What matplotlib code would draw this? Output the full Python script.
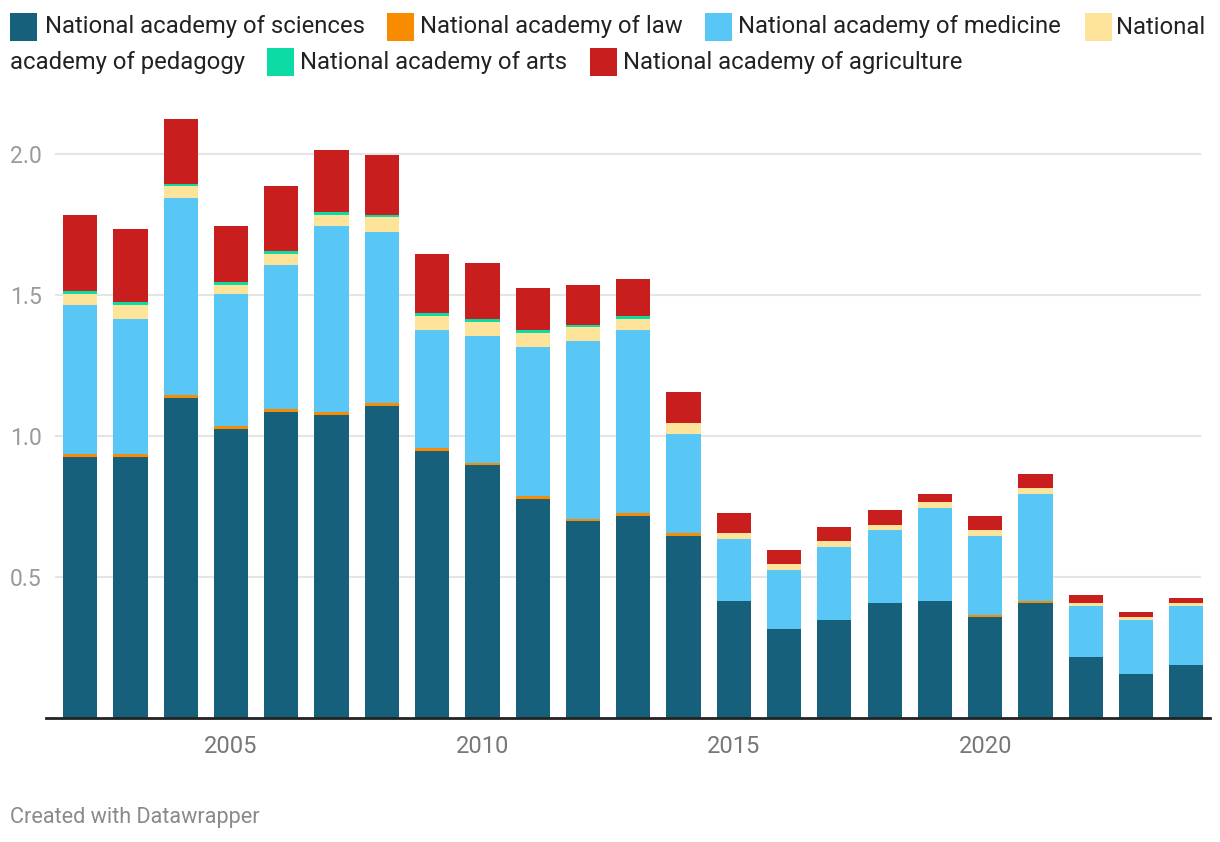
import matplotlib
matplotlib.use("Agg")
import matplotlib.pyplot as plt
from matplotlib.patches import Rectangle
import numpy as np

plt.rcParams['font.family'] = ['Roboto', 'DejaVu Sans']

years = list(range(2002, 2025))

sciences = [0.927, 0.927, 1.136, 1.026, 1.086, 1.076, 1.107, 0.948, 0.897, 0.778, 0.699, 0.716,
            0.645, 0.416, 0.316, 0.348, 0.408, 0.415, 0.358, 0.408, 0.216, 0.156, 0.188]
law = [0.011, 0.011, 0.009, 0.011, 0.011, 0.010, 0.011, 0.010, 0.008, 0.010, 0.007, 0.011,
       0.010, 0, 0, 0, 0, 0, 0.007, 0.007, 0, 0, 0]
medicine = [0.528, 0.478, 0.700, 0.468, 0.510, 0.660, 0.606, 0.419, 0.451, 0.529, 0.632, 0.650,
            0.352, 0.219, 0.209, 0.258, 0.259, 0.330, 0.280, 0.379, 0.181, 0.192, 0.209]
pedagogy = [0.039, 0.050, 0.043, 0.032, 0.039, 0.039, 0.054, 0.050, 0.049, 0.048, 0.049, 0.038,
            0.039, 0.021, 0.021, 0.022, 0.017, 0.021, 0.022, 0.022, 0.011, 0.010, 0.011]
arts = [0.009, 0.010, 0.007, 0.010, 0.011, 0.010, 0.007, 0.010, 0.011, 0.011, 0.007, 0.011,
        0, 0, 0, 0, 0, 0, 0, 0, 0, 0, 0]
agriculture = [0.270, 0.258, 0.229, 0.198, 0.230, 0.219, 0.211, 0.208, 0.197, 0.149, 0.141, 0.131,
               0.110, 0.071, 0.050, 0.049, 0.054, 0.028, 0.049, 0.049, 0.028, 0.018, 0.018]

series = [
    ("National academy of sciences", sciences, "#17607b"),
    ("National academy of law", law, "#f98b00"),
    ("National academy of medicine", medicine, "#58c7f5"),
    ("National academy of pedagogy", pedagogy, "#fee49b"),
    ("National academy of arts", arts, "#0cdca4"),
    ("National academy of agriculture", agriculture, "#c81e1e"),
]

W, H = 1220, 842
fig = plt.figure(figsize=(W / 100, H / 100), dpi=100)
ax = fig.add_axes([46 / W, 1 - 718 / H, (1210 - 46) / W, (718 - 98) / H])

bottom = np.zeros(len(years))
for name, vals, color in series:
    vals = np.array(vals)
    ax.bar(years, vals, bottom=bottom, width=0.68, color=color, linewidth=0, zorder=3)
    bottom += vals

ax.set_xlim(2002 - 0.68, 2024 + 0.47)
ax.set_ylim(0, 2.2)
yticks = [0.5, 1.0, 1.5, 2.0]
ax.set_yticks(yticks)
ax.set_yticklabels(["0.5", "1.0", "1.5", "2.0"])
ax.set_xticks([2005, 2010, 2015, 2020])
ax.tick_params(axis='y', length=0, labelsize=16.5, labelcolor="#9a9a9a", pad=3)
ax.tick_params(axis='x', length=0, labelsize=17, labelcolor="#777777", pad=12)
for yv in yticks:
    ax.axhline(yv, xmin=10 / 1164, xmax=1154 / 1164, color="#e5e5e5", linewidth=1.5, zorder=0)
for s in ["top", "right", "left"]:
    ax.spines[s].set_visible(False)
ax.spines["bottom"].set_color("#222222")
ax.spines["bottom"].set_linewidth(2)
ax.spines["bottom"].set_zorder(4)

# legend, laid out like the wrapped Datawrapper legend
legend_items = [
    (10, 27, 45, "National academy of sciences", "#17607b"),
    (387, 27, 420, "National academy of law", "#f98b00"),
    (705, 27, 738, "National academy of medicine", "#58c7f5"),
    (1085, 27, 1116, "National", "#fee49b"),
    (267, 62, 300, "National academy of arts", "#0cdca4"),
    (590, 62, 623, "National academy of agriculture", "#c81e1e"),
]
for sx, cy, tx, label, color in legend_items:
    fig.patches.append(Rectangle((sx / W, 1 - (cy + 14) / H), 27 / W, 28 / H,
                                 transform=fig.transFigure, color=color, linewidth=0))
    fig.text(tx / W, 1 - cy / H, label, fontsize=17.2, color="#222222", va='center', ha='left')
fig.text(10 / W, 1 - 62 / H, "academy of pedagogy", fontsize=17.2, color="#222222", va='center', ha='left')

fig.text(10 / W, 1 - 817 / H, "Created with Datawrapper", fontsize=15.6, color="#8a8a8a",
         va='center', ha='left')

fig.savefig("out.png", dpi=100)
